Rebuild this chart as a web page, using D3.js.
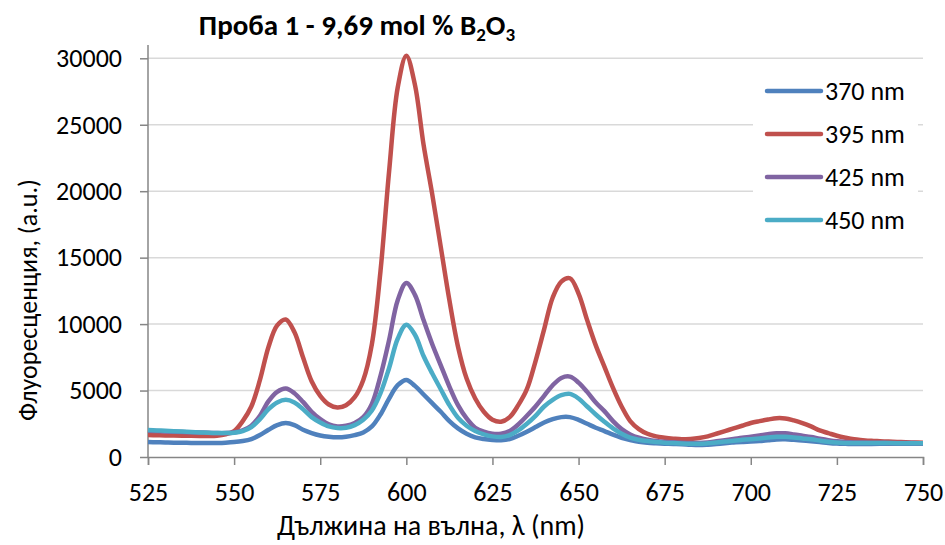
<!DOCTYPE html>
<html lang="bg">
<head>
<meta charset="utf-8">
<title>Проба 1</title>
<script src="https://d3js.org/d3.v7.min.js"></script>
<style>
  body { margin: 0; background: #fff; }
  text { font-family: Calibri, Carlito, "Open Sans", sans-serif; fill: #000; }
</style>
</head>
<body>
<svg id="chart" width="945" height="545"></svg>
<script>
// wavelength, nm (step 2.5)
var wavelengths = d3.range(525, 750.01, 2.5);

var s370 = [1130,1110,1090,1080,1070,1060,1050,1050,1060,1080,1120,1200,1350,1650,2050,2400,2550,2400,2050,1800,
  1620,1520,1480,1520,1650,1850,2300,3200,4400,5400,5800,5350,4700,4050,3400,2700,2150,1750,1480,1350,
  1280,1260,1350,1600,1900,2250,2600,2850,3000,3000,2800,2500,2200,1950,1680,1450,1280,1150,1070,1030,
  1000,980,960,920,900,930,980,1040,1090,1130,1160,1200,1260,1320,1330,1290,1240,1190,1130,1060,
  1010,990,980,980,985,990,990,995,1000,1000,1000];

var s395 = [1650,1640,1620,1610,1600,1590,1580,1580,1600,1700,1950,2700,3800,5800,8300,9900,10350,9400,7500,5700,
  4600,3950,3720,3900,4500,5800,8500,14000,21500,27800,30200,28000,23500,19800,15800,11800,8300,5900,4400,3400,
  2800,2650,3000,3900,5100,7200,9600,12000,13200,13450,12300,10300,8400,6800,5200,3800,2700,2100,1750,1550,
  1450,1380,1330,1360,1430,1550,1750,1950,2150,2350,2560,2700,2820,2920,2900,2750,2550,2300,2000,1800,
  1600,1450,1330,1270,1220,1190,1160,1130,1110,1090,1080];

var s425 = [1980,1950,1920,1900,1880,1860,1840,1820,1800,1800,1850,2000,2350,3100,4200,4900,5150,4800,4150,3400,
  2850,2450,2300,2350,2550,3000,4000,6100,8800,11800,13100,12200,10300,8500,6900,5300,3900,2900,2200,1900,
  1750,1750,1950,2450,3100,3800,4600,5400,5950,6050,5600,4900,4100,3450,2700,2100,1700,1450,1300,1200,
  1140,1110,1080,1060,1060,1100,1180,1260,1350,1450,1530,1620,1720,1790,1780,1700,1600,1500,1380,1270,
  1180,1130,1100,1090,1080,1070,1060,1055,1050,1045,1040];

var s450 = [2030,2000,1970,1940,1910,1880,1850,1820,1800,1800,1830,1950,2250,2850,3600,4100,4300,4100,3600,3000,
  2600,2300,2180,2200,2400,2800,3500,4800,6700,8900,9950,9200,7600,6300,5100,3900,2950,2350,1950,1700,
  1550,1500,1650,2000,2500,3100,3800,4300,4650,4750,4400,3800,3200,2650,2150,1750,1450,1300,1200,1130,
  1080,1050,1020,1000,990,1030,1090,1160,1230,1290,1340,1400,1470,1530,1520,1470,1400,1330,1240,1150,
  1090,1060,1050,1050,1050,1045,1045,1040,1040,1040,1040];

var seriesNames = ["370 nm", "395 nm", "425 nm", "450 nm"];
var seriesValues = [s370, s395, s425, s450];
var colors = ["#4F81BD", "#C0504D", "#8064A2", "#4BACC6"];

var xTicks = [525, 550, 575, 600, 625, 650, 675, 700, 725, 750];
var yTicks = [0, 5000, 10000, 15000, 20000, 25000, 30000];

var svg = d3.select("#chart");
var plotLeft = 148, plotRight = 923, plotTop = 45, plotBottom = 457;

var x = d3.scaleLinear().domain([525, 750]).range([plotLeft, plotRight]);
var y = d3.scaleLinear().domain([0, 31000]).range([plotBottom, plotTop]);

// gridlines
svg.append("g")
  .selectAll("line")
  .data(yTicks.slice(1))
  .enter().append("line")
  .attr("x1", plotLeft).attr("x2", plotRight)
  .attr("y1", function (d) { return y(d); })
  .attr("y2", function (d) { return y(d); })
  .attr("stroke", "#d9d9d9")
  .attr("stroke-width", 1.5);

// axes
var yAxis = svg.append("g")
  .attr("transform", "translate(" + plotLeft + ",0)")
  .call(d3.axisLeft(y).tickValues(yTicks).tickSize(8).tickPadding(18).tickFormat(d3.format("d")));
yAxis.select(".domain").attr("d", "M0," + plotBottom + "V" + plotTop);

var xAxis = svg.append("g")
  .attr("transform", "translate(0," + plotBottom + ")")
  .call(d3.axisBottom(x).tickValues(xTicks).tickSize(8).tickPadding(18).tickFormat(d3.format("d")));

svg.selectAll(".domain, .tick line").attr("stroke", "#868686").attr("stroke-width", 1.5);
svg.selectAll(".tick text").attr("font-size", "26px").attr("fill", "#000")
  .style("font-family", "Calibri, Carlito, 'Open Sans', sans-serif");

// lines
var line = d3.line()
  .x(function (d, i) { return x(wavelengths[i]); })
  .y(function (d) { return y(d); })
  .curve(d3.curveCatmullRom.alpha(0.5));

svg.append("g")
  .selectAll("path")
  .data(seriesValues)
  .enter().append("path")
  .attr("fill", "none")
  .attr("stroke", function (d, i) { return colors[i]; })
  .attr("stroke-width", 4.5)
  .attr("stroke-linejoin", "round")
  .attr("d", line);

// legend
var legend = svg.append("g");
legend.append("rect")
  .attr("x", 753).attr("y", 70).attr("width", 165).attr("height", 172)
  .attr("fill", "#fff");
var items = legend.selectAll("g")
  .data(seriesNames)
  .enter().append("g")
  .attr("transform", function (d, i) { return "translate(0," + (91 + i * 43) + ")"; });
items.append("line")
  .attr("x1", 767).attr("x2", 821)
  .attr("stroke", function (d, i) { return colors[i]; })
  .attr("stroke-width", 4.5)
  .attr("stroke-linecap", "round");
items.append("text")
  .attr("x", 825).attr("y", 0)
  .attr("dy", "0.33em")
  .attr("font-size", "26px")
  .text(function (d) { return d; });

// title
var title = svg.append("text")
  .attr("x", 357).attr("y", 35)
  .attr("text-anchor", "middle")
  .attr("font-size", "29px")
  .attr("font-weight", "bold");
title.append("tspan").text("Проба 1 - 9,69 mol % B");
title.append("tspan").attr("font-size", "19px").attr("dy", 6).text("2");
title.append("tspan").attr("dy", -6).text("O");
title.append("tspan").attr("font-size", "19px").attr("dy", 6).text("3");

// axis labels
svg.append("text")
  .attr("x", 431).attr("y", 535)
  .attr("text-anchor", "middle")
  .attr("font-size", "28px")
  .text("Дължина на вълна, λ (nm)");

svg.append("text")
  .attr("transform", "translate(37,300) rotate(-90)")
  .attr("text-anchor", "middle")
  .attr("font-size", "26px")
  .text("Флуоресценция, (a.u.)");
</script>
</body>
</html>
